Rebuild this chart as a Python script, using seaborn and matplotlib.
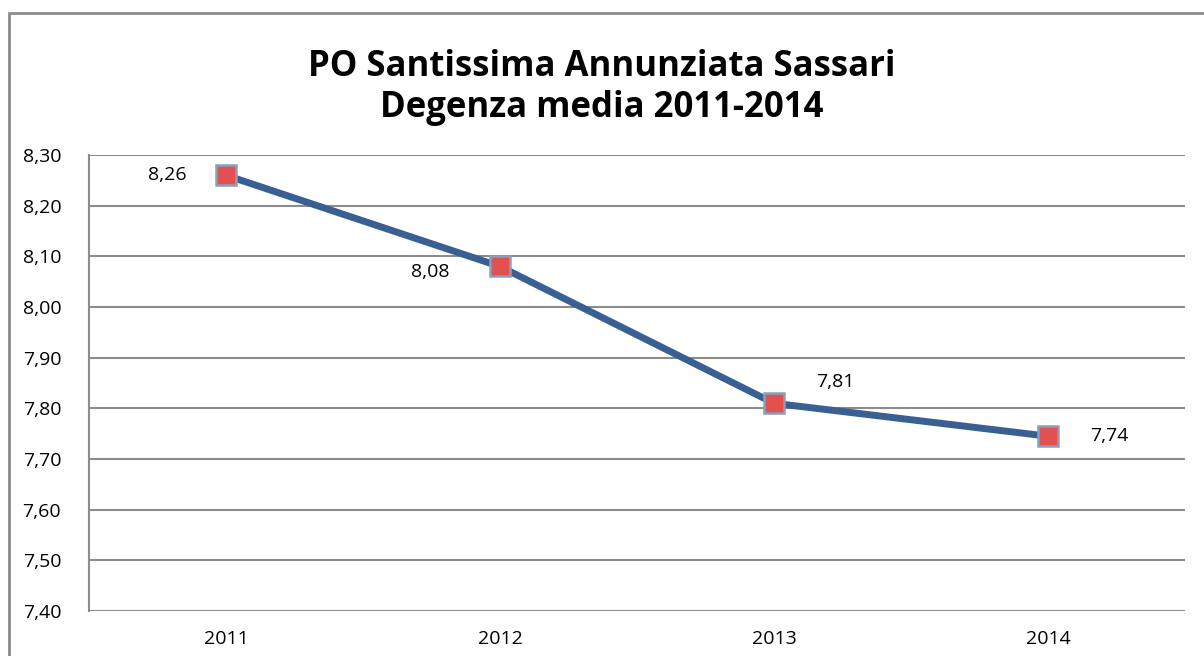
import pandas as pd
import seaborn as sns
import matplotlib.pyplot as plt
from matplotlib.patches import Rectangle

years = ['2011', '2012', '2013', '2014']
degenza = [8.26, 8.08, 7.81, 7.745]
labels = ['8,26', '8,08', '7,81', '7,74']
yticks = [7.40, 7.50, 7.60, 7.70, 7.80, 7.90, 8.00, 8.10, 8.20, 8.30]

sns.set_style('white')
plt.rcParams['font.family'] = ['Open Sans', 'DejaVu Sans']
plt.rcParams['text.color'] = 'black'
plt.rcParams['xtick.color'] = 'black'
plt.rcParams['ytick.color'] = 'black'

df = pd.DataFrame({'anno': years, 'degenza': degenza})

fig = plt.figure(figsize=(12.04, 6.56), dpi=100)
ax = fig.add_axes([0.0739, 0.0686, 0.9103, 0.6951])

#outer chart frame (open on right/bottom like the crop)
fig.patches.append(Rectangle((9/1204, -0.1), 1.2, (656-13)/656 + 0.1, transform=fig.transFigure,
                             fill=False, edgecolor='#8c8c8c', linewidth=2))

sns.lineplot(data=df, x='anno', y='degenza', ax=ax, color='#3A5F93', linewidth=5,
             marker='s', markersize=15, markerfacecolor='#E2514F',
             markeredgecolor='#8A9EC0', markeredgewidth=1.8, sort=False)

offsets = [(-42, 0), (-50, -4), (44, 15), (44, 0)]
for i, (lab, (dx, dy)) in enumerate(zip(labels, offsets)):
    ax.annotate(lab, (i, degenza[i]), xytext=(dx, dy), textcoords='offset points',
                ha='center', va='center', fontsize=14, color='black')

ax.set_xlim(-0.5, 3.5)
ax.set_ylim(7.40, 8.30)
ax.set_yticks(yticks)
ax.set_yticklabels([f'{v:.2f}'.replace('.', ',') for v in yticks], fontsize=14)
ax.tick_params(axis='x', labelsize=14, length=0, pad=14, labelcolor='black')
ax.tick_params(axis='y', length=0, pad=20, labelcolor='black')
ax.yaxis.grid(True, color='#8c8c8c', linewidth=1.5)
ax.set_axisbelow(True)
ax.set_xlabel('')
ax.set_ylabel('')
for s in ['top', 'right', 'bottom']:
    ax.spines[s].set_visible(False)
ax.spines['left'].set_color('#8c8c8c')
ax.spines['left'].set_linewidth(1.5)

fig.text(0.5, 0.867, 'PO Santissima Annunziata Sassari\nDegenza media 2011-2014',
         ha='center', va='center', fontsize=25, fontweight='bold', linespacing=1.2,
         color='black')

fig.savefig('out.png', dpi=100)
